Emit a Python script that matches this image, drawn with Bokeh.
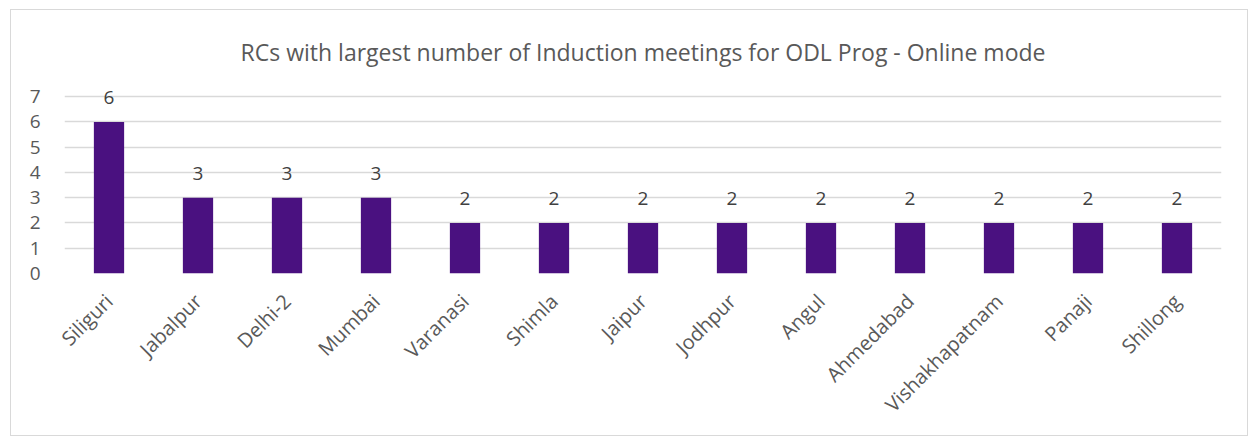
import math
from bokeh.plotting import figure
from bokeh.models import ColumnDataSource, LabelSet, Title, FixedTicker
from bokeh.core.properties import value
from bokeh.embed import file_html
from bokeh.resources import INLINE

categories = ["Siliguri", "Jabalpur", "Delhi-2", "Mumbai", "Varanasi", "Shimla", "Jaipur",
              "Jodhpur", "Angul", "Ahmedabad", "Vishakhapatnam", "Panaji", "Shillong"]
values = [6, 3, 3, 3, 2, 2, 2, 2, 2, 2, 2, 2, 2]
y_ticks = [0, 1, 2, 3, 4, 5, 6, 7]
title_text = "RCs with largest number of Induction meetings for ODL Prog - Online mode"

FONT = "Open Sans"
src = ColumnDataSource(dict(cat=categories, val=values, lab=[str(v) for v in values]))

p = figure(x_range=categories, y_range=(0, 7.6), width=1238, height=427,
           output_backend="svg", toolbar_location=None,
           min_border_left=53, min_border_right=28, min_border_top=71, min_border_bottom=164)
p.margin = (9, 0, 0, 10)

p.vbar(x="cat", top="val", width=0.34, source=src, color="#4a1180", line_color=None)

labels = LabelSet(x="cat", y="val", text="lab", source=src, text_align="center",
                  text_baseline="middle", y_offset=24, text_font_size="19px",
                  text_color="#404040", text_font=value(FONT))
p.add_layout(labels)

t = Title(text=title_text, align="center", text_font_size="23px", text_color="#595959",
          text_font=FONT, text_font_style="normal", standoff=28)
p.add_layout(t, "above")

p.yaxis.ticker = FixedTicker(ticks=y_ticks)
p.yaxis.axis_line_color = None
p.yaxis.major_tick_line_color = None
p.yaxis.minor_tick_line_color = None
p.yaxis.major_label_text_font_size = "19px"
p.yaxis.major_label_text_color = "#595959"
p.yaxis.major_label_text_font = FONT
p.yaxis.major_label_standoff = 18

p.xaxis.axis_line_color = None
p.xaxis.major_tick_line_color = None
p.xaxis.major_label_orientation = math.pi / 4
p.xaxis.major_label_text_font_size = "20px"
p.xaxis.major_label_text_color = "#595959"
p.xaxis.major_label_text_font = FONT
p.xaxis.major_label_standoff = 18

p.xgrid.grid_line_color = None
p.ygrid.grid_line_color = "#d9d9d9"
p.ygrid.grid_line_width = 1.5
p.outline_line_color = None
p.x_range.range_padding = 0
p.styles = {"border": "1px solid #d9d9d9", "box-sizing": "border-box"}

open("out.html", "w").write(file_html(p, INLINE))
